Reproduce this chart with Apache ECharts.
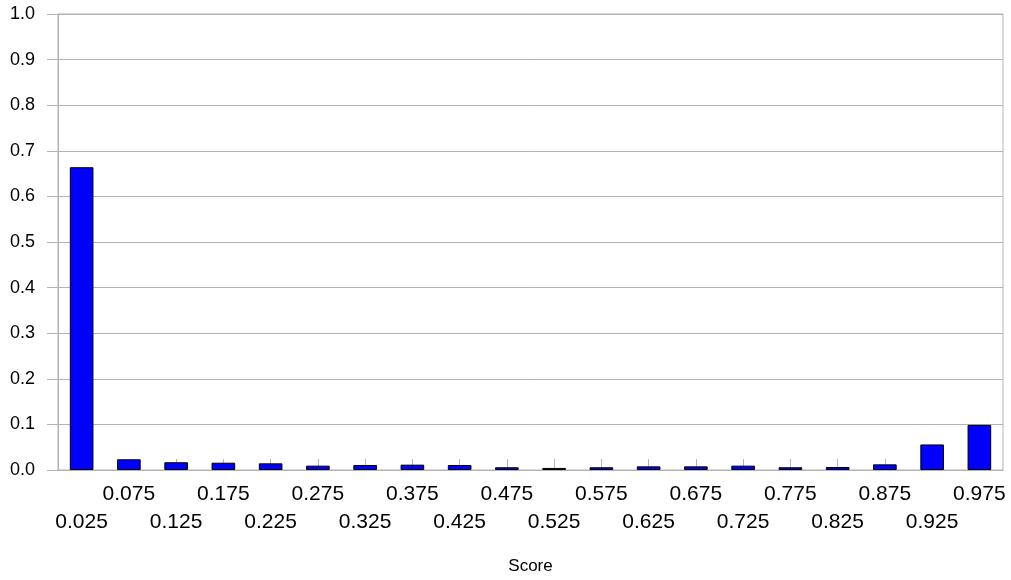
<!DOCTYPE html>
<html>
<head>
<meta charset="utf-8">
<script src="https://cdn.jsdelivr.net/npm/echarts@6/dist/echarts.min.js"></script>
<style>html,body{margin:0;padding:0;background:#fff}#c{width:1011px;height:580px}</style>
</head>
<body>
<div id="c"></div>
<script>
const categories = ['0.025','0.075','0.125','0.175','0.225','0.275','0.325','0.375','0.425','0.475','0.525','0.575','0.625','0.675','0.725','0.775','0.825','0.875','0.925','0.975'];
const values = [0.664,0.0235,0.017,0.016,0.0146,0.0095,0.011,0.0117,0.011,0.006,0.0045,0.006,0.008,0.008,0.0095,0.006,0.0066,0.0124,0.056,0.099];
const xAxisName = 'Score';

const chart = echarts.init(document.getElementById('c'));
const gray = '#b3b3b3';
const font = 'Liberation Sans, Arial, sans-serif';
chart.setOption({
  animation: false,
  grid: {left: 58, right: 8, top: 14, bottom: 110, show: true, borderColor: gray, borderWidth: 1, backgroundColor: 'transparent'},
  xAxis: {
    type: 'category',
    data: categories,
    name: xAxisName,
    nameLocation: 'middle',
    nameGap: 88,
    nameTextStyle: {fontFamily: font, fontSize: 17, color: '#000'},
    axisLine: {show: true, lineStyle: {color: gray, width: 1}},
    axisTick: {show: true, alignWithLabel: true, inside: true, length: 11, lineStyle: {color: gray, width: 1}},
    axisLabel: {
      interval: 0,
      margin: 10,
      fontFamily: font, fontSize: 21, color: '#000', lineHeight: 28,
      formatter: function (v, i) { return i % 2 === 0 ? '\n' + v : v; }
    }
  },
  yAxis: {
    type: 'value',
    min: 0, max: 1, interval: 0.1,
    axisLine: {show: true, lineStyle: {color: gray, width: 1}},
    axisTick: {show: true, inside: false, length: 11, lineStyle: {color: gray}},
    splitLine: {lineStyle: {color: gray, width: 1}},
    axisLabel: {margin: 23, fontFamily: font, fontSize: 18, color: '#000', formatter: v => v.toFixed(1)}
  },
  series: [{
    type: 'bar',
    data: values,
    barWidth: '50%',
    itemStyle: {color: '#0000ff', borderColor: '#000', borderWidth: 1}
  }]
});
</script>
</body>
</html>
